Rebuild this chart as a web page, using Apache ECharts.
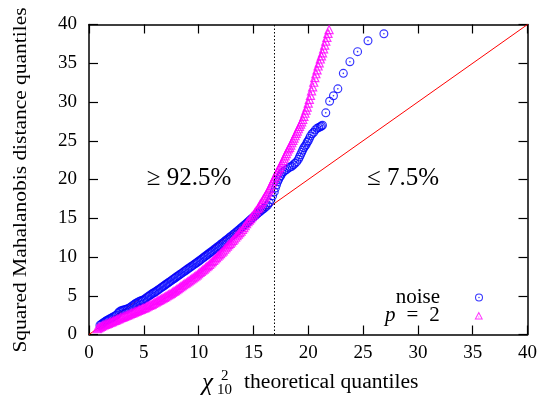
<!DOCTYPE html>
<html><head><meta charset="utf-8">
<script src="https://cdn.jsdelivr.net/npm/echarts@6/dist/echarts.min.js"></script>
<style>html,body{margin:0;padding:0;background:#fff}#c{width:540px;height:398px}</style>
</head><body><div id="c"></div>
<script>
// ---- data ----
const axisMin = 0, axisMax = 40, tickStep = 5;
const refLineEnds = [0, 40];          // y = x reference line
const cutoffX = 16.92;                // 92.5% quantile of chi2_10
const leftLabel = '≥ 92.5%';
const rightLabel = '≤ 7.5%';
const seriesNames = ['noise', 'p = 2'];

const noiseX = [
1.0,1.125,1.25,1.375,1.5,1.625,1.75,1.875,2.0,2.125,2.25,2.375,2.5,2.625,2.75,2.875,3.0,3.125,3.25,3.375,
3.5,3.625,3.75,3.875,4.0,4.125,4.25,4.375,4.5,4.625,4.75,4.875,5.0,5.125,5.25,5.375,5.5,5.625,5.75,5.875,
6.0,6.125,6.25,6.375,6.5,6.625,6.75,6.875,7.0,7.125,7.25,7.375,7.5,7.625,7.75,7.875,8.0,8.125,8.25,8.375,
8.5,8.625,8.75,8.875,9.0,9.125,9.25,9.375,9.5,9.625,9.75,9.875,10.0,10.125,10.25,10.375,10.5,10.625,10.75,10.875,
11.0,11.125,11.25,11.375,11.5,11.625,11.75,11.875,12.0,12.125,12.25,12.375,12.5,12.625,12.75,12.875,13.0,13.125,13.25,13.375,
13.5,13.625,13.75,13.875,14.0,14.125,14.25,14.375,14.5,14.625,14.75,14.875,15.0,15.125,15.25,15.375,15.5,15.625,15.75,15.875,16.0,
16.15,16.3,16.45,16.6,16.75,16.9,17.0,17.1,17.2,17.3,17.4,17.5,17.6,17.75,17.9,18.05,18.2,18.35,18.5,18.65,
18.8,18.95,19.1,19.2,19.3,19.4,19.5,19.6,19.7,19.8,19.9,20.0,20.1,20.2,20.35,20.5,20.65,20.8,20.95,21.1,21.2,21.3,
21.6,21.95,22.3,22.7,23.2,23.8,24.5,25.45,26.9];
const noiseY = [
1.2,1.32,1.45,1.58,1.7,1.8,1.9,2.0,2.1,2.2,2.3,2.4,2.5,2.7,2.9,3.02,3.1,3.15,3.2,3.25,
3.3,3.4,3.5,3.62,3.75,3.88,4.0,4.1,4.2,4.28,4.35,4.42,4.5,4.62,4.75,4.88,5.0,5.12,5.25,5.35,
5.45,5.58,5.7,5.82,5.95,6.08,6.2,6.32,6.45,6.58,6.7,6.82,6.95,7.08,7.2,7.32,7.45,7.58,7.7,7.82,
7.95,8.08,8.2,8.32,8.45,8.58,8.7,8.82,8.95,9.08,9.2,9.32,9.45,9.58,9.72,9.85,10.0,10.12,10.25,10.38,
10.52,10.65,10.78,10.92,11.05,11.18,11.32,11.45,11.6,11.74,11.88,12.02,12.16,12.3,12.44,12.58,12.72,12.86,13.0,13.15,
13.3,13.45,13.6,13.75,13.9,14.05,14.2,14.36,14.52,14.68,14.84,15.0,15.15,15.3,15.45,15.6,15.75,15.9,16.05,16.18,16.3,
16.5,16.7,17.0,17.4,17.9,18.4,18.9,19.3,19.7,20.0,20.3,20.5,20.8,21.0,21.2,21.3,21.5,21.6,21.7,21.9,
22.1,22.3,22.6,22.9,23.2,23.5,23.8,24.1,24.3,24.5,24.8,25.0,25.3,25.6,25.9,26.1,26.4,26.6,26.7,26.8,26.9,27.0,
28.6,30.1,30.8,31.7,33.7,35.2,36.5,37.9,38.8];

const p2X = [
0.75,0.875,1.0,1.125,1.25,1.375,1.5,1.625,1.75,1.875,2.0,2.125,2.25,2.375,2.5,2.625,2.75,2.875,3.0,3.125,
3.25,3.375,3.5,3.625,3.75,3.875,4.0,4.125,4.25,4.375,4.5,4.625,4.75,4.875,5.0,5.125,5.25,5.375,5.5,5.625,
5.75,5.875,6.0,6.125,6.25,6.375,6.5,6.625,6.75,6.875,7.0,7.125,7.25,7.375,7.5,7.625,7.75,7.875,8.0,8.125,
8.25,8.375,8.5,8.625,8.75,8.875,9.0,9.125,9.25,9.375,9.5,9.625,9.75,9.875,10.0,10.125,10.25,10.375,10.5,10.625,
10.75,10.875,11.0,11.125,11.25,11.375,11.5,11.625,11.75,11.875,12.0,12.125,12.25,12.375,12.5,12.625,12.75,12.875,13.0,13.125,
13.25,13.375,13.5,13.625,13.75,13.875,14.0,14.125,14.25,14.375,14.5,14.625,14.75,14.875,15.0,15.125,15.25,
15.4,15.5,15.6,15.7,15.8,15.9,16.0,16.1,16.2,16.3,16.4,16.5,16.6,16.7,16.8,16.9,17.0,17.1,17.2,17.3,
17.4,17.5,17.6,17.7,17.8,17.9,18.0,18.1,18.2,18.3,18.4,18.5,18.6,18.7,18.8,18.9,19.0,19.1,19.2,19.3,
19.4,19.5,19.6,19.7,19.8,19.9,20.0,20.1,20.2,20.3,20.4,20.5,20.6,20.7,20.8,20.9,21.0,21.1,21.2,21.3,
21.4,21.5,21.6,21.7,21.8,21.9];
const p2Y = [
0.8,0.9,1.0,1.1,1.2,1.28,1.35,1.42,1.5,1.58,1.65,1.72,1.8,1.88,1.95,2.02,2.1,2.18,2.25,2.32,
2.4,2.48,2.55,2.62,2.7,2.78,2.85,2.92,3.0,3.08,3.15,3.22,3.3,3.38,3.45,3.52,3.6,3.7,3.8,3.88,
3.95,4.05,4.15,4.25,4.35,4.45,4.55,4.65,4.75,4.85,4.95,5.05,5.15,5.25,5.35,5.48,5.6,5.72,5.85,5.98,
6.1,6.22,6.35,6.48,6.6,6.72,6.85,6.98,7.1,7.22,7.35,7.48,7.6,7.75,7.9,8.05,8.2,8.35,8.5,8.65,
8.8,8.95,9.1,9.28,9.45,9.62,9.8,9.98,10.15,10.32,10.5,10.68,10.85,11.05,11.25,11.45,11.65,11.82,12.0,12.2,
12.4,12.6,12.8,13.0,13.2,13.4,13.6,13.85,14.1,14.35,14.6,14.8,15.0,15.25,15.5,15.75,16.0,
16.3,16.5,16.8,17.0,17.2,17.5,17.7,17.95,18.2,18.45,18.7,18.95,19.3,19.6,19.9,20.2,20.5,20.8,21.1,21.4,
21.6,21.9,22.2,22.5,22.8,23.1,23.4,23.7,24.0,24.2,24.5,24.8,25.1,25.4,25.7,26.0,26.3,26.6,26.9,27.2,
27.5,27.8,28.2,28.6,29.0,29.4,29.9,30.4,30.9,31.5,32.0,32.6,33.2,33.7,34.2,34.7,35.1,35.6,36.0,36.4,
36.9,37.4,37.9,38.4,38.9,39.4];

// ---- rendering ----
const serif = 'Liberation Serif, Times New Roman, serif';
const ringDot = 'path://M10 0A10 10 0 1 1 10 20A10 10 0 1 1 10 0Z M10 2.6A7.4 7.4 0 1 0 10 17.4A7.4 7.4 0 1 0 10 2.6Z M10 8.2A1.8 1.8 0 1 1 10 11.8A1.8 1.8 0 1 1 10 8.2Z';
const triDot = 'path://M10 0.5L19.5 18.5L0.5 18.5Z M10 5.8L4.1 16.4L15.9 16.4Z M9 11.5L9 14L11 14L11 11.5Z';

const zip = (xs, ys) => xs.map((x, i) => [x, ys[i]]);

const frameAxis = (extra) => Object.assign({
  type: 'value', min: axisMin, max: axisMax, interval: tickStep,
  axisLine: { show: true, onZero: false, lineStyle: { color: '#000', width: 1.5 } },
  axisTick: { show: true, inside: true, length: 9, lineStyle: { color: '#000', width: 1.2 } },
  splitLine: { show: false },
  axisLabel: { show: false }
}, extra);

const lbl = { show: true, fontFamily: serif, fontSize: 19, color: '#000' };

const chart = echarts.init(document.getElementById('c'), null, { renderer: 'canvas' });
chart.setOption({
  animation: false,
  backgroundColor: '#fff',
  grid: { left: 89, top: 24.5, width: 440, height: 310 },
  xAxis: [
    frameAxis({ position: 'bottom', axisLabel: Object.assign({ margin: 9 }, lbl) }),
    frameAxis({ position: 'top' })
  ],
  yAxis: [
    frameAxis({ position: 'left', axisLabel: Object.assign({ margin: 12 }, lbl) }),
    frameAxis({ position: 'right' })
  ],
  legend: [
    { data: [seriesNames[0]], orient: 'vertical', align: 'right', right: 57, top: 287, padding: 0,
      itemWidth: 68, itemHeight: 8, selectedMode: false,
      textStyle: { fontFamily: serif, fontSize: 21, color: '#000' } },
    { data: [seriesNames[1]], orient: 'vertical', align: 'right', right: 57, top: 305, padding: 0,
      itemWidth: 68, itemHeight: 8, selectedMode: false,
      formatter: () => '{i|p}{e|=}{n|2}',
      textStyle: { fontFamily: serif, fontSize: 21, color: '#000',
        rich: { i: { fontFamily: serif, fontSize: 21, fontStyle: 'italic' },
                e: { fontFamily: serif, fontSize: 21, padding: [0, 11, 0, 11] },
                n: { fontFamily: serif, fontSize: 21 } } } }
  ],
  series: [
    { type: 'line', data: refLineEnds.map(v => [v, v]), symbol: 'none', silent: true, z: 1,
      lineStyle: { color: '#ff0000', width: 1 } },
    { name: seriesNames[0], type: 'scatter', data: zip(noiseX, noiseY), symbol: ringDot, symbolSize: 9,
      itemStyle: { color: '#0000ff' }, z: 2 },
    { name: seriesNames[1], type: 'scatter', data: zip(p2X, p2Y), symbol: triDot, symbolSize: 10,
      itemStyle: { color: '#ff00ff' }, z: 3 },
    { type: 'line', data: [[cutoffX, axisMin], [cutoffX, axisMax]], symbol: 'none', silent: true, z: 5,
      lineStyle: { color: '#000', width: 1, type: [1.5, 2] } }
  ],
  graphic: [
    { type: 'text', x: 189, y: 178, style: { text: leftLabel, fontFamily: serif, fontSize: 25, fill: '#000', align: 'center', verticalAlign: 'middle' } },
    { type: 'text', x: 403, y: 178, style: { text: rightLabel, fontFamily: serif, fontSize: 25, fill: '#000', align: 'center', verticalAlign: 'middle' } },
    // y axis title
    { type: 'text', x: 21.5, y: 180, rotation: Math.PI / 2, scaleX: 1.13,
      style: { text: 'Squared Mahalanobis distance quantiles', fontFamily: serif, fontSize: 19, fill: '#000', align: 'center', verticalAlign: 'middle' } },
    // x axis title
    { type: 'text', x: 202, y: 383, style: { text: 'χ', fontFamily: serif, fontSize: 25, fontStyle: 'italic', fill: '#000', align: 'left', verticalAlign: 'middle' } },
    { type: 'text', x: 221, y: 376.5, style: { text: '2', fontFamily: serif, fontSize: 15, fill: '#000', align: 'left', verticalAlign: 'middle' } },
    { type: 'text', x: 217, y: 390.5, style: { text: '10', fontFamily: serif, fontSize: 15, fill: '#000', align: 'left', verticalAlign: 'middle' } },
    { type: 'text', x: 244, y: 382.5, scaleX: 1.08,
      style: { text: 'theoretical quantiles', fontFamily: serif, fontSize: 20, fill: '#000', align: 'left', verticalAlign: 'middle' } }
  ]
});
</script></body></html>
